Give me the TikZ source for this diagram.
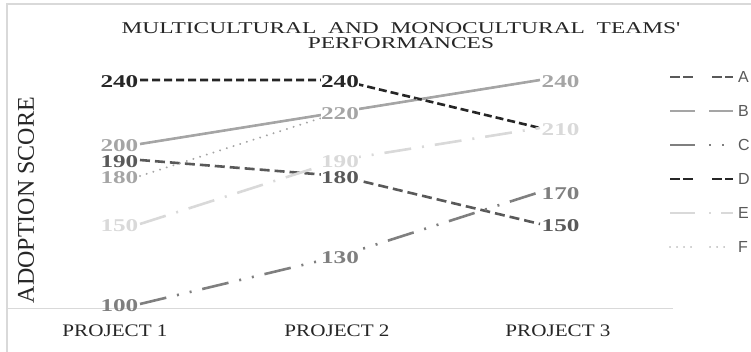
\documentclass[tikz,border=0pt]{standalone}
\usepackage{fontspec}
\setmainfont{Liberation Serif}
\newfontfamily\titlefont[FakeStretch=1.42]{Liberation Serif}
\newfontfamily\catfont[FakeStretch=1.2]{Liberation Serif}
\newfontfamily\valfont[FakeStretch=1.4]{Liberation Serif}
\newfontfamily\keyfont{Liberation Sans}
\definecolor{seriesA}{HTML}{595959}
\definecolor{seriesB}{HTML}{A5A5A5}
\definecolor{seriesC}{HTML}{7F7F7F}
\definecolor{seriesD}{HTML}{262626}
\definecolor{seriesE}{HTML}{D9D9D9}
\definecolor{seriesF}{HTML}{A5A5A5}
\definecolor{framegray}{HTML}{D9D9D9}
\definecolor{textgray}{HTML}{262626}
\tikzstyle{serA}=[seriesA, line width=2.6pt, dash pattern=on 10pt off 5pt]
\tikzstyle{serB}=[seriesB, line width=2.6pt]
\tikzstyle{serC}=[seriesC, line width=2.6pt, dash pattern=on 27pt off 11pt on 2pt off 11pt on 2pt off 11pt]
\tikzstyle{serD}=[seriesD, line width=2.6pt, dash pattern=on 8pt off 4pt]
\tikzstyle{serE}=[seriesE, line width=2.6pt, dash pattern=on 27pt off 11pt on 2pt off 11pt]
\tikzstyle{serF}=[seriesF, line width=2.2pt, line cap=round, dash pattern=on 0.01pt off 7pt]
\tikzstyle{val}=[font=\valfont\bfseries\fontsize{18}{18}\selectfont, inner sep=0.5pt]
\tikzstyle{valL}=[val, anchor=east, xshift=-1pt, yshift=-2pt]
\tikzstyle{valM}=[val, fill=white, yshift=-2pt]
\tikzstyle{valR}=[val, anchor=west, xshift=1pt, yshift=-2pt]
\tikzstyle{cat}=[font=\catfont\fontsize{17.6}{17.6}\selectfont, text=textgray]
\tikzstyle{key}=[font=\keyfont\fontsize{16}{16}\selectfont, text=seriesA, anchor=west, inner sep=2pt]

\begin{document}
\begin{tikzpicture}[x=1pt, y=-1pt]
\useasboundingbox (0,0) rectangle (751,352);
% frame and axis line
\draw[framegray, line width=1.5pt] (7,352) -- (7,4) -- (751,4);
\coordinate (base0) at (8,308);
\coordinate (base1) at (673,308);
\draw[framegray, line width=1pt] (base0) -- (base1);
% titles
\node[font=\titlefont\fontsize{16.5}{15}\selectfont, text=textgray, align=center, inner sep=0pt] (title) at (401,36)
  {MULTICULTURAL\ \ AND\ \ MONOCULTURAL\ \ TEAMS'\\PERFORMANCES};
\node[font=\fontsize{24}{24}\selectfont, text=textgray, rotate=90] (ytitle) at (26,200) {ADOPTION SCORE};
\node[cat] (p1) at (115,331) {PROJECT 1};
\node[cat] (p2) at (337,331) {PROJECT 2};
\node[cat] (p3) at (558,331) {PROJECT 3};
% data points
\coordinate (a1) at (140,160); \coordinate (a2) at (340,176); \coordinate (a3) at (540,224);
\coordinate (b1) at (140,144); \coordinate (b2) at (340,112); \coordinate (b3) at (540,80);
\coordinate (c1) at (140,304); \coordinate (c2) at (340,256); \coordinate (c3) at (540,192);
\coordinate (d1) at (140,80);  \coordinate (d2) at (340,80);  \coordinate (d3) at (540,128);
\coordinate (e1) at (140,224); \coordinate (e2) at (340,160); \coordinate (e3) at (540,128);
\coordinate (f1) at (140,176); \coordinate (f2) at (340,112); \coordinate (f3) at (540,80);
% series
\draw[serA] (a1) -- (a2) -- (a3);
\draw[serB] (b1) -- (b2) -- (b3);
\draw[serC] (c1) -- (c2) -- (c3);
\draw[serD] (d1) -- (d2) -- (d3);
\draw[serE] (e1) -- (e2) -- (e3);
\draw[serF] (f1) -- (f2) -- (f3);
% value labels
\node[valL, text=seriesA] (la1) at (a1) {190};
\node[valM, text=seriesA] (la2) at (a2) {180};
\node[valR, text=seriesA] (la3) at (a3) {150};
\node[valL, text=seriesB] (lb1) at (b1) {200};
\node[valM, text=seriesB] (lb2) at (b2) {220};
\node[valR, text=seriesB] (lb3) at (b3) {240};
\node[valL, text=seriesC] (lc1) at (c1) {100};
\node[valM, text=seriesC] (lc2) at (c2) {130};
\node[valR, text=seriesC] (lc3) at (c3) {170};
\node[valL, text=seriesD] (ld1) at (d1) {240};
\node[valM, text=seriesD] (ld2) at (d2) {240};
\node[valL, text=seriesE] (le1) at (e1) {150};
\node[valM, text=seriesE] (le2) at (e2) {190};
\node[valR, text=seriesE] (le3) at (e3) {210};
\node[valL, text=seriesF] (lf1) at (f1) {180};
% legend
\coordinate (ka) at (670,77);  \node[key] (keyA) at (736,77) {A};
\coordinate (kb) at (670,111); \node[key] (keyB) at (736,111) {B};
\coordinate (kc) at (670,145); \node[key] (keyC) at (736,145) {C};
\coordinate (kd) at (670,179); \node[key] (keyD) at (736,179) {D};
\coordinate (ke) at (670,213); \node[key] (keyE) at (736,213) {E};
\coordinate (kf) at (670,247); \node[key] (keyF) at (736,247) {F};
\draw[serA, dash pattern=on 10pt off 3pt on 10pt off 19pt on 10pt off 3pt on 8pt off 5pt] (ka) -- (keyA.west);
\draw[serB, dash pattern=on 25pt off 14pt on 24pt off 5pt] (kb) -- (keyB.west);
\draw[serC, dash pattern=on 25pt off 14pt on 1.5pt off 11.5pt on 1.5pt off 15pt] (kc) -- (keyC.west);
\draw[serD, dash pattern=on 10pt off 3pt on 10pt off 19pt on 10pt off 3pt on 8pt off 5pt] (kd) -- (keyD.west);
\draw[serE, dash pattern=on 25pt off 14pt on 2pt off 10pt on 12pt off 5pt] (ke) -- (keyE.west);
\draw[serF, line width=1.5pt, dash pattern=on 0.01pt off 7pt on 0.01pt off 7pt on 0.01pt off 7pt on 0.01pt off 19pt on 0.01pt off 7pt on 0.01pt off 7pt on 0.01pt off 20pt] (kf) -- (keyF.west);
\end{tikzpicture}
\end{document}
